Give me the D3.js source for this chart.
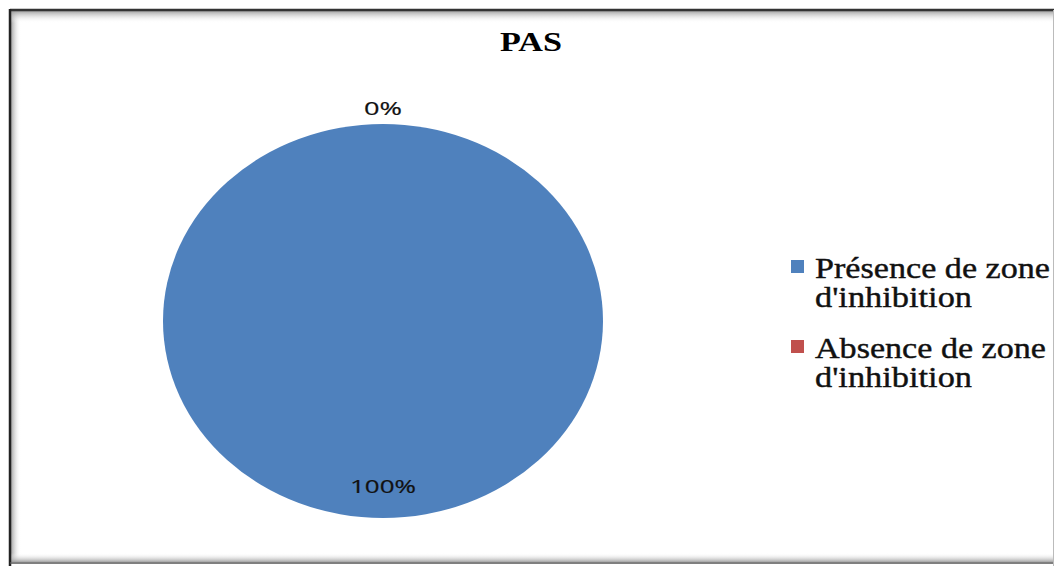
<!DOCTYPE html>
<html><head><meta charset="utf-8">
<script src="https://cdn.jsdelivr.net/npm/d3@7"></script>
<style>html,body{margin:0;padding:0;background:#fff;}</style>
</head><body>
<svg id="chart" width="1054" height="566"></svg>
<script>
const title = "PAS";
const categories = ["Présence de zone d'inhibition", "Absence de zone d'inhibition"];
const legendLines = [["Présence de zone", "d'inhibition"], ["Absence de zone", "d'inhibition"]];
const values = [100, 0];
const labels = ["100%", "0%"];
const colors = ["#4F81BD", "#C0504D"];

const svg = d3.select("#chart");
const defs = svg.append("defs");
function grad(id, x1, y1, x2, y2) {
  const g = defs.append("linearGradient").attr("id", id)
    .attr("x1", x1).attr("y1", y1).attr("x2", x2).attr("y2", y2);
  g.append("stop").attr("offset", "0").attr("stop-color", "#999").attr("stop-opacity", 0.9);
  g.append("stop").attr("offset", "1").attr("stop-color", "#fff").attr("stop-opacity", 0);
}
grad("gl", 0, 0, 1, 0); grad("gt", 0, 0, 0, 1); grad("gb", 0, 1, 0, 0);

// frame
svg.append("rect").attr("x", 10).attr("y", 10).attr("width", 1043).attr("height", 553)
  .attr("fill", "#fff");
svg.append("rect").attr("x", 11).attr("y", 11).attr("width", 10).attr("height", 551).attr("fill", "url(#gl)");
svg.append("rect").attr("x", 11).attr("y", 11).attr("width", 1042).attr("height", 12).attr("fill", "url(#gt)");
svg.append("rect").attr("x", 11).attr("y", 553).attr("width", 1042).attr("height", 9).attr("fill", "url(#gb)");
svg.append("line").attr("x1", 10).attr("y1", 10).attr("x2", 1054).attr("y2", 10).attr("stroke", "#333").attr("stroke-width", 2.5);
svg.append("line").attr("x1", 10).attr("y1", 9).attr("x2", 10).attr("y2", 566).attr("stroke", "#222").attr("stroke-width", 2.5);
svg.append("line").attr("x1", 10).attr("y1", 563).attr("x2", 1054).attr("y2", 563).attr("stroke", "#555").attr("stroke-width", 1.5);
svg.append("line").attr("x1", 1053.5).attr("y1", 10).attr("x2", 1053.5).attr("y2", 566).attr("stroke", "#bbb").attr("stroke-width", 1);

// title
svg.append("text").attr("x", 531).attr("y", 51).attr("text-anchor", "middle")
  .attr("font-family", "Liberation Serif, Times New Roman, serif").attr("font-weight", "bold")
  .attr("font-size", 27).attr("textLength", 62).attr("lengthAdjust", "spacingAndGlyphs")
  .attr("fill", "#000").text(title);

// pie
const cx = 383, cy = 321, rx = 220, ry = 197;
const pie = d3.pie().sort(null).value(d => d);
const arcs = pie(values);
const arc = d3.arc().innerRadius(0).outerRadius(1);
const g = svg.append("g").attr("transform", `translate(${cx},${cy})`);
g.append("g").attr("transform", `scale(${rx},${ry})`)
  .selectAll("path").data(arcs).join("path")
  .attr("d", arc).attr("fill", (d, i) => colors[i]);

// labels
const labelRadius = [0.84, 1.08];
const labelWidths = [66, 38];
arcs.forEach((d, i) => {
  const a = (d.startAngle + d.endAngle) / 2;
  const k = labelRadius[i];
  const x = Math.sin(a) * rx * k;
  const y = -Math.cos(a) * ry * k;
  g.append("text").attr("x", x).attr("y", y).attr("text-anchor", "middle")
    .attr("dominant-baseline", "central")
    .attr("font-family", "Open Sans, DejaVu Sans, sans-serif").attr("font-size", 18)
    .attr("textLength", labelWidths[i]).attr("lengthAdjust", "spacingAndGlyphs")
    .attr("fill", "#111").attr("stroke", "#111").attr("stroke-width", 0.2).text(labels[i]);
});

// legend
const lg = svg.append("g");
const lineWidths = [[235, 157], [231, 157]];
const legendY = [278, 358];
legendLines.forEach((lines, i) => {
  lg.append("rect").attr("x", 791).attr("y", legendY[i] - 18).attr("width", 13).attr("height", 13)
    .attr("fill", colors[i]);
  lines.forEach((t, j) => {
    lg.append("text").attr("x", 815).attr("y", legendY[i] + j * 29)
      .attr("font-family", "Liberation Serif, Times New Roman, serif").attr("font-size", 29)
      .attr("textLength", lineWidths[i][j]).attr("lengthAdjust", "spacingAndGlyphs")
      .attr("fill", "#111").attr("stroke", "#111").attr("stroke-width", 0.4).text(t);
  });
});
</script>
</body></html>
